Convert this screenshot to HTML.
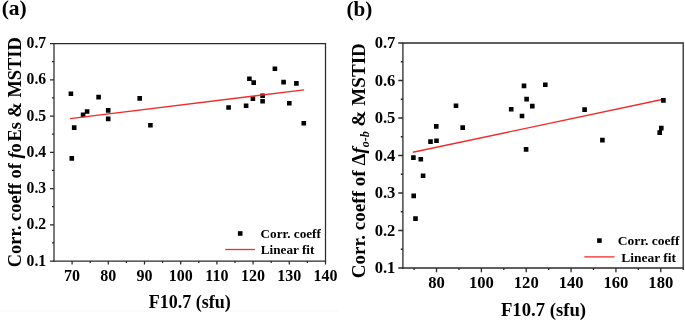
<!DOCTYPE html><html><head><meta charset="utf-8"><style>html,body{margin:0;padding:0;background:#fff}svg{display:block;will-change:transform}</style></head><body>
<svg width="685" height="321" viewBox="0 0 685 321" font-family='"Liberation Serif", serif' font-weight="bold" fill="#000">
<rect width="685" height="321" fill="#fff"/>
<rect x="0" y="310.5" width="338" height="1" fill="#f7f7f7"/>
<path d="M53.38 43.5H326.12M325.5 43.5V261" fill="none" stroke="#2a2a2a" stroke-width="1.25"/>
<path d="M54 43.5V261.62" fill="none" stroke="#2a2a2a" stroke-width="1.25"/>
<path d="M53.38 261H326.12" fill="none" stroke="#2a2a2a" stroke-width="1.25"/>
<path d="M72.1 261v3.6M108.3 261v3.6M144.5 261v3.6M180.7 261v3.6M216.9 261v3.6M253.1 261v3.6M289.3 261v3.6M325.5 261v3.6M90.2 261v2M126.4 261v2M162.6 261v2M198.8 261v2M235 261v2M271.2 261v2M307.4 261v2M54 261h-4M54 224.75h-4M54 188.5h-4M54 152.25h-4M54 116h-4M54 79.75h-4M54 43.5h-4M54 242.88h-2M54 206.62h-2M54 170.38h-2M54 134.12h-2M54 97.88h-2M54 61.62h-2" stroke="#2a2a2a" stroke-width="1.25" fill="none"/>
<text x="72.1" y="280.6" font-size="16" text-anchor="middle">70</text>
<text x="108.3" y="280.6" font-size="16" text-anchor="middle">80</text>
<text x="144.5" y="280.6" font-size="16" text-anchor="middle">90</text>
<text x="180.7" y="280.6" font-size="16" text-anchor="middle">100</text>
<text x="216.9" y="280.6" font-size="16" text-anchor="middle">110</text>
<text x="253.1" y="280.6" font-size="16" text-anchor="middle">120</text>
<text x="289.3" y="280.6" font-size="16" text-anchor="middle">130</text>
<text x="325.5" y="280.6" font-size="16" text-anchor="middle">140</text>
<text x="46.2" y="265.6" font-size="15.7" text-anchor="end">0.1</text>
<text x="46.2" y="229.35" font-size="15.7" text-anchor="end">0.2</text>
<text x="46.2" y="193.1" font-size="15.7" text-anchor="end">0.3</text>
<text x="46.2" y="156.85" font-size="15.7" text-anchor="end">0.4</text>
<text x="46.2" y="120.6" font-size="15.7" text-anchor="end">0.5</text>
<text x="46.2" y="84.35" font-size="15.7" text-anchor="end">0.6</text>
<text x="46.2" y="48.1" font-size="15.7" text-anchor="end">0.7</text>
<text x="1.7" y="14.9" font-size="21.5">(a)</text>
<text x="189.8" y="308.1" font-size="18" text-anchor="middle">F10.7 (sfu)</text>
<text transform="translate(20.8 152.2) rotate(-90)" x="0" y="0" font-size="18.4" text-anchor="middle">Corr. coeff of <tspan font-style="italic">f</tspan>o<tspan dx="1.8">Es</tspan> &amp; MSTID</text>
<path fill="#000" d="M68.6 91.5h4.6v4.6h-4.6zM71.9 125.3h4.6v4.6h-4.6zM69.5 156.1h4.6v4.6h-4.6zM80.8 112.6h4.6v4.6h-4.6zM84.8 109.2h4.6v4.6h-4.6zM96.3 94.8h4.6v4.6h-4.6zM105.9 108.1h4.6v4.6h-4.6zM105.9 116.6h4.6v4.6h-4.6zM137.4 96.1h4.6v4.6h-4.6zM148.1 122.9h4.6v4.6h-4.6zM226.3 105.2h4.6v4.6h-4.6zM243.8 103.4h4.6v4.6h-4.6zM247.1 76.4h4.6v4.6h-4.6zM251.4 80.3h4.6v4.6h-4.6zM250.6 96.3h4.6v4.6h-4.6zM260.3 93.5h4.6v4.6h-4.6zM260.3 99h4.6v4.6h-4.6zM272.6 66.4h4.6v4.6h-4.6zM281.3 79.8h4.6v4.6h-4.6zM287 100.9h4.6v4.6h-4.6zM294.1 81.1h4.6v4.6h-4.6zM301.5 120.9h4.6v4.6h-4.6z"/>
<line x1="70.1" y1="118.6" x2="304.1" y2="89.9" stroke="#f02c2c" stroke-width="1.4"/>
<rect x="237.9" y="231.2" width="4.6" height="4.6" fill="#000"/>
<text x="260.6" y="237.9" font-size="13.2">Corr. coeff</text>
<line x1="225.3" y1="249.5" x2="254.9" y2="249.5" stroke="#f02c2c" stroke-width="1.3"/>
<text x="260.8" y="254" font-size="13.2">Linear fit</text>
<path d="M402.25 43H683.85M683.2 43V268" fill="none" stroke="#2a2a2a" stroke-width="1.3"/>
<path d="M402.9 43V268.65" fill="none" stroke="#2a2a2a" stroke-width="1.3"/>
<path d="M402.25 268H683.85" fill="none" stroke="#2a2a2a" stroke-width="1.3"/>
<path d="M436.54 268v4.2M481.38 268v4.2M526.23 268v4.2M571.08 268v4.2M615.93 268v4.2M660.78 268v4.2M414.11 268v2.1M458.96 268v2.1M503.81 268v2.1M548.66 268v2.1M593.5 268v2.1M638.35 268v2.1M683.2 268v2.1M402.9 268h-4.6M402.9 230.5h-4.6M402.9 193h-4.6M402.9 155.5h-4.6M402.9 118h-4.6M402.9 80.5h-4.6M402.9 43h-4.6M402.9 249.25h-2.1M402.9 211.75h-2.1M402.9 174.25h-2.1M402.9 136.75h-2.1M402.9 99.25h-2.1M402.9 61.75h-2.1" stroke="#2a2a2a" stroke-width="1.3" fill="none"/>
<text x="436.54" y="288.4" font-size="16.6" text-anchor="middle">80</text>
<text x="481.38" y="288.4" font-size="16.6" text-anchor="middle">100</text>
<text x="526.23" y="288.4" font-size="16.6" text-anchor="middle">120</text>
<text x="571.08" y="288.4" font-size="16.6" text-anchor="middle">140</text>
<text x="615.93" y="288.4" font-size="16.6" text-anchor="middle">160</text>
<text x="660.78" y="288.4" font-size="16.6" text-anchor="middle">180</text>
<text x="395.4" y="273.4" font-size="16.6" text-anchor="end">0.1</text>
<text x="395.4" y="235.9" font-size="16.6" text-anchor="end">0.2</text>
<text x="395.4" y="198.4" font-size="16.6" text-anchor="end">0.3</text>
<text x="395.4" y="160.9" font-size="16.6" text-anchor="end">0.4</text>
<text x="395.4" y="123.4" font-size="16.6" text-anchor="end">0.5</text>
<text x="395.4" y="85.9" font-size="16.6" text-anchor="end">0.6</text>
<text x="395.4" y="48.4" font-size="16.6" text-anchor="end">0.7</text>
<text x="346.5" y="15.8" font-size="21.2">(b)</text>
<text x="543.5" y="315.9" font-size="18.7" text-anchor="middle">F10.7 (sfu)</text>
<text transform="translate(365.4 160.7) rotate(-90)" x="0" y="0" font-size="19.1" text-anchor="middle">Corr. coeff of &#916;<tspan font-style="italic">f</tspan><tspan font-style="italic" font-size="12" dy="4">o-b</tspan><tspan dy="-4"> &amp; MSTID</tspan></text>
<line x1="412.8" y1="152.2" x2="661" y2="99.8" stroke="#f02c2c" stroke-width="1.4"/>
<path fill="#000" d="M411.1 155.3h4.6v4.6h-4.6zM418.5 157h4.6v4.6h-4.6zM420.8 173.4h4.6v4.6h-4.6zM411.4 193.6h4.6v4.6h-4.6zM413.2 216.3h4.6v4.6h-4.6zM428.2 139.3h4.6v4.6h-4.6zM434.2 138.5h4.6v4.6h-4.6zM434 124.1h4.6v4.6h-4.6zM453.7 103.5h4.6v4.6h-4.6zM460.4 125.3h4.6v4.6h-4.6zM508.9 106.9h4.6v4.6h-4.6zM519.7 113.7h4.6v4.6h-4.6zM521.7 83.6h4.6v4.6h-4.6zM524.3 96.8h4.6v4.6h-4.6zM530 103.8h4.6v4.6h-4.6zM523.8 147.1h4.6v4.6h-4.6zM543 82.5h4.6v4.6h-4.6zM582.3 107.3h4.6v4.6h-4.6zM600.1 137.8h4.6v4.6h-4.6zM661.1 98.1h4.6v4.6h-4.6zM659 125.8h4.6v4.6h-4.6zM657.4 130.3h4.6v4.6h-4.6z"/>
<rect x="597.1" y="238.3" width="4.6" height="4.6" fill="#000"/>
<text x="617.7" y="244.8" font-size="13.5">Corr. coeff</text>
<line x1="584.3" y1="256.9" x2="614.5" y2="256.9" stroke="#f02c2c" stroke-width="1.3"/>
<text x="621.2" y="261.6" font-size="13.5">Linear fit</text>
</svg></body></html>
